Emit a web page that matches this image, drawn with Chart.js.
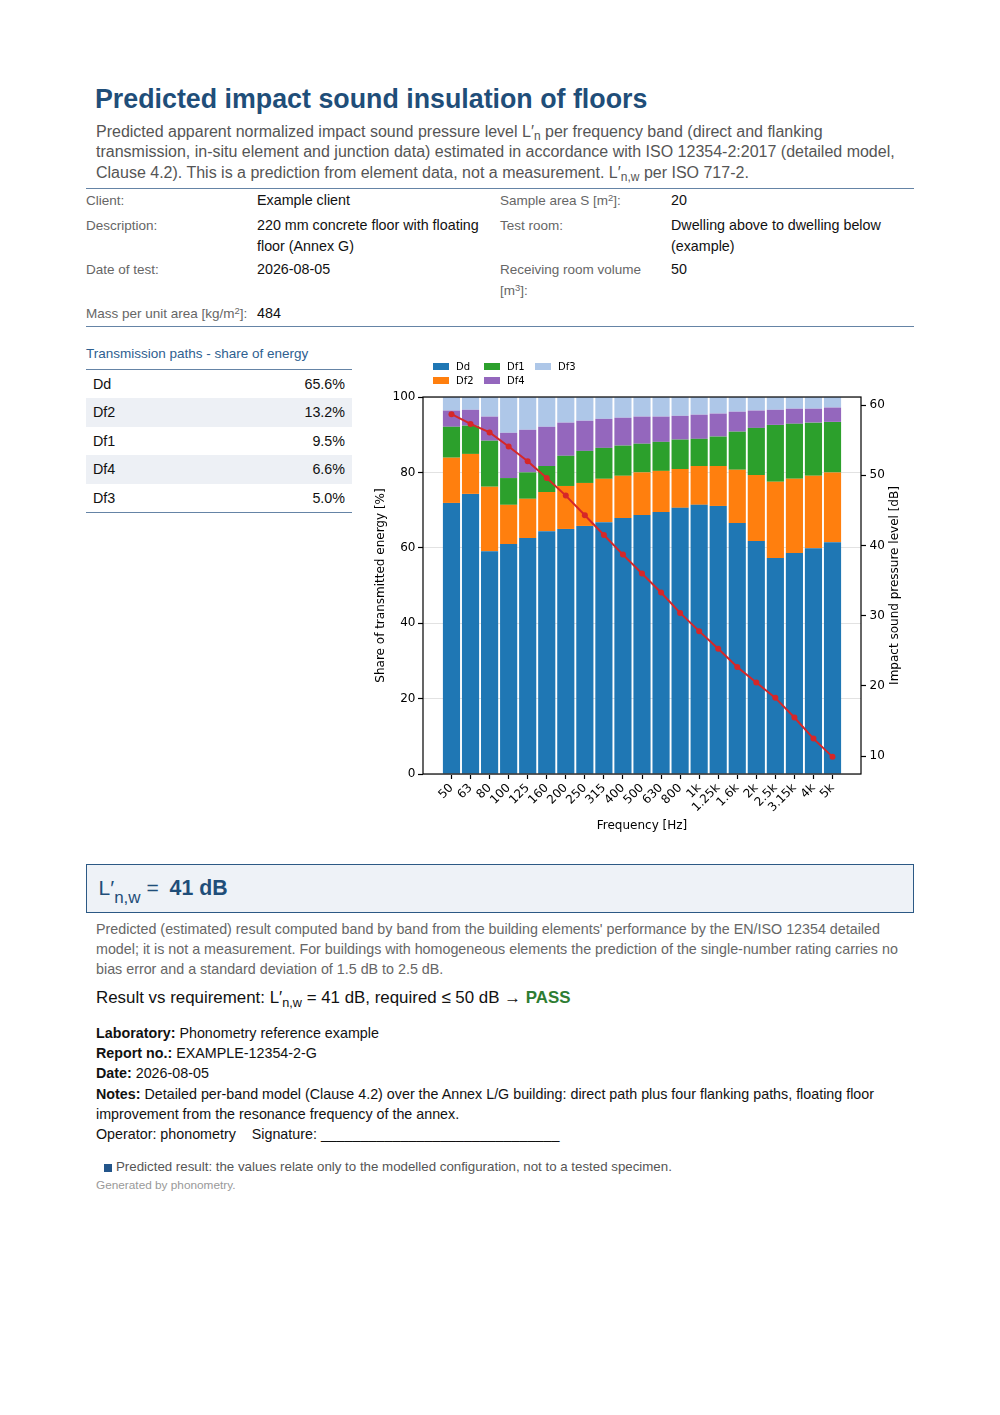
<!DOCTYPE html>
<html><head><meta charset="utf-8">
<script src="https://cdn.jsdelivr.net/npm/chart.js@4.4.1/dist/chart.umd.min.js"></script>
<style>
html,body{margin:0;padding:0;background:#fff;}
body{width:1000px;height:1415px;position:relative;font-family:"Liberation Sans",Arial,Helvetica,sans-serif;color:#111;}
.a{position:absolute;white-space:nowrap;}
sub{font-size:0.75em;vertical-align:-0.28em;line-height:0;}
sup{font-size:0.7em;vertical-align:0.45em;line-height:0;}
.lbl{font-size:13.5px;line-height:21px;color:#666;}
.val{font-size:14.3px;line-height:21px;color:#111;}
.rule{position:absolute;left:86px;width:828px;height:0;border-top:1.5px solid #6584a6;}
.prow{position:absolute;left:86px;width:266px;height:28.5px;line-height:28.5px;font-size:14.3px;color:#111;}
.prow.alt{background:#edf0f5;}
.prow .n{position:absolute;left:7px;}
.prow .v{position:absolute;right:7px;}
</style>
</head>
<body>
<div class="a" style="left:95px;top:83.2px;font-size:26.8px;line-height:32px;font-weight:bold;color:#1f4e79;">Predicted impact sound insulation of floors</div>
<div class="a" style="left:96px;top:121.7px;font-size:16px;line-height:20.5px;color:#555;">Predicted apparent normalized impact sound pressure level L′<sub>n</sub> per frequency band (direct and flanking<br>transmission, in-situ element and junction data) estimated in accordance with ISO 12354-2:2017 (detailed model,<br>Clause 4.2). This is a prediction from element data, not a measurement. L′<sub>n,w</sub> per ISO 717-2.</div>

<div class="rule" style="top:188.3px;"></div>
<div class="a lbl" style="left:86px;top:190.2px;">Client:</div>
<div class="a val" style="left:257px;top:190.1px;">Example client</div>
<div class="a lbl" style="left:500px;top:190.2px;">Sample area S [m<sup>2</sup>]:</div>
<div class="a val" style="left:671px;top:190.1px;">20</div>

<div class="a lbl" style="left:86px;top:215.2px;">Description:</div>
<div class="a val" style="left:257px;top:215.1px;">220 mm concrete floor with floating<br>floor (Annex G)</div>
<div class="a lbl" style="left:500px;top:215.2px;">Test room:</div>
<div class="a val" style="left:671px;top:215.1px;">Dwelling above to dwelling below<br>(example)</div>

<div class="a lbl" style="left:86px;top:259px;">Date of test:</div>
<div class="a val" style="left:257px;top:258.8px;">2026-08-05</div>
<div class="a lbl" style="left:500px;top:259px;">Receiving room volume<br>[m<sup>3</sup>]:</div>
<div class="a val" style="left:671px;top:258.8px;">50</div>

<div class="a lbl" style="left:86px;top:303px;">Mass per unit area [kg/m<sup>2</sup>]:</div>
<div class="a val" style="left:257px;top:302.8px;">484</div>
<div class="rule" style="top:325.8px;"></div>

<div class="a" style="left:86px;top:346px;font-size:13.5px;line-height:16px;color:#2e6090;">Transmission paths - share of energy</div>
<div class="rule" style="top:368.6px;width:266px;"></div>
<div id="paths"></div>

<canvas id="c" width="550" height="495" style="position:absolute;left:360px;top:350px;width:550px;height:495px;"></canvas>

<div style="position:absolute;left:86px;top:864px;width:828px;height:49px;box-sizing:border-box;border:1.5px solid #2c5985;background:#eef2f7;"></div>
<div class="a" style="left:98.5px;top:875.5px;font-size:21px;line-height:24px;color:#1f4e79;">L′<span style="font-size:17px;position:relative;top:8px;">n,w</span> = <b style="margin-left:5px;font-size:21.3px;">41 dB</b></div>

<div class="a" style="left:96px;top:920.2px;font-size:14.3px;line-height:19.7px;color:#666;">Predicted (estimated) result computed band by band from the building elements' performance by the EN/ISO 12354 detailed<br>model; it is not a measurement. For buildings with homogeneous elements the prediction of the single-number rating carries no<br>bias error and a standard deviation of 1.5 dB to 2.5 dB.</div>

<div class="a" style="left:96px;top:988px;font-size:16.9px;line-height:20px;color:#111;">Result vs requirement: L′<sub>n,w</sub> = 41 dB, required ≤ 50 dB → <b style="color:#2e7d32;">PASS</b></div>

<div class="a" style="left:96px;top:1023px;font-size:14.3px;line-height:20.2px;color:#111;"><b>Laboratory:</b> Phonometry reference example<br><b>Report no.:</b> EXAMPLE-12354-2-G<br><b>Date:</b> 2026-08-05<br><b>Notes:</b> Detailed per-band model (Clause 4.2) over the Annex L/G building: direct path plus four flanking paths, floating floor<br>improvement from the resonance frequency of the annex.<br>Operator: phonometry &nbsp;&nbsp; Signature: ______________________________</div>

<div style="position:absolute;left:104px;top:1163.5px;width:8px;height:8px;background:#23558a;"></div>
<div class="a" style="left:116px;top:1159.3px;font-size:13.3px;line-height:16px;color:#555;">Predicted result: the values relate only to the modelled configuration, not to a tested specimen.</div>
<div class="a" style="left:96px;top:1177.5px;font-size:11.8px;line-height:14px;color:#999;">Generated by phonometry.</div>

<script>
// ---- data ----
const freqLabels = ['50','63','80','100','125','160','200','250','315','400','500','630','800','1k','1.25k','1.6k','2k','2.5k','3.15k','4k','5k'];
const Dd  = [71.9,74.3,59.1,61.0,62.6,64.4,65.0,65.8,66.8,67.9,68.7,69.5,70.6,71.4,71.1,66.6,61.8,57.3,58.6,59.9,61.5];
const Df2 = [12.0,10.6,17.1,10.4,10.4,10.4,11.4,11.4,11.5,11.2,11.3,10.9,10.3,10.3,10.6,14.1,17.5,20.2,19.7,19.2,18.5];
const Df1 = [8.2,7.5,12.2,7.1,7.0,6.9,8.0,8.5,8.2,8.0,7.6,7.7,7.8,7.2,7.8,10.1,12.5,15.1,14.6,14.1,13.4];
const Df4 = [4.3,4.2,6.4,12.0,11.3,10.4,8.8,8.0,7.7,7.4,7.2,6.7,6.3,6.4,6.1,5.3,4.6,4.0,4.0,3.7,3.8];
const Df3 = [3.6,3.4,5.2,9.5,8.7,7.9,6.8,6.3,5.8,5.5,5.2,5.2,5.0,4.7,4.4,3.9,3.6,3.4,3.1,3.1,2.8];
const Lprime = [58.7,57.3,56.1,54.1,52.0,49.6,47.1,44.3,41.5,38.7,36.0,33.3,30.4,27.8,25.3,22.7,20.5,18.3,15.5,12.5,9.9];
const leftTicks = [0,20,40,60,80,100];
const rightTicks = [10,20,30,40,50,60];
const pathNames = ['Dd','Df2','Df1','Df4','Df3'];
const pathShares = ['65.6%','13.2%','9.5%','6.6%','5.0%'];

// ---- paths table ----
(function(){
  const host = document.getElementById('paths');
  let html = '';
  pathNames.forEach((nm,i)=>{
    html += '<div class="prow'+(i%2===1?' alt':'')+'" style="top:'+(369.8+i*28.5)+'px;"><span class="n">'+nm+'</span><span class="v">'+pathShares[i]+'</span></div>';
  });
  html += '<div class="rule" style="top:'+(369.8+5*28.5)+'px;width:266px;"></div>';
  host.innerHTML = html;
})();

// ---- chart ----
Chart.defaults.font.family = '"DejaVu Sans", sans-serif';
Chart.defaults.font.size = 12;
Chart.defaults.color = '#000';

const n = freqLabels.length;
const barW = 0.9;
const xSpan = (n - 1) + barW;
const xMin = -barW/2 - 0.05*xSpan, xMax = (n - 1) + barW/2 + 0.05*xSpan;
const lMin = Math.min(...Lprime), lMax = Math.max(...Lprime), lPad = 0.05*(lMax - lMin);
const pts = arr => arr.map((v,i)=>({x:i, y:v}));

const series = [
  ['Dd', Dd, '#1f77b4'],
  ['Df2', Df2, '#ff7f0e'],
  ['Df1', Df1, '#2ca02c'],
  ['Df4', Df4, '#9467bd'],
  ['Df3', Df3, '#aec7e8']
];

const deco = {
  id: 'deco',
  afterDatasetsDraw(chart){
    const {ctx, chartArea:a} = chart;
    ctx.save();
    ctx.strokeStyle = '#000';
    ctx.lineWidth = 1.2;
    ctx.strokeRect(a.left, a.top, a.right - a.left, a.bottom - a.top);
    ctx.restore();
  },
  afterDraw(chart){
    const {ctx, chartArea:a} = chart;
    ctx.save();
    const bars = chart.data.datasets.filter(d => d.type === 'bar');
    ctx.font = '10px "DejaVu Sans", sans-serif';
    ctx.textBaseline = 'middle';
    ctx.textAlign = 'left';
    bars.forEach((d,k)=>{
      const col = Math.floor(k/2), row = k % 2;
      const x0 = 73 + col*51, y0 = 13 + row*14;
      ctx.fillStyle = d.backgroundColor;
      ctx.fillRect(x0, y0, 16, 7);
      ctx.fillStyle = '#000';
      ctx.fillText(d.label, x0 + 23, y0 + 4);
    });
    ctx.translate(534.5, (a.top + a.bottom)/2);
    ctx.rotate(-Math.PI/2);
    ctx.textAlign = 'center';
    ctx.font = '12px "DejaVu Sans", sans-serif';
    ctx.fillStyle = '#000';
    ctx.fillText('Impact sound pressure level [dB]', 0, 0);
    ctx.restore();
  }
};

new Chart(document.getElementById('c'), {
  data: {
    datasets: [
      {type:'line', label:"L'n", data: pts(Lprime), yAxisID:'yR', xAxisID:'x',
       borderColor:'#d62728', backgroundColor:'#d62728', borderWidth:2,
       pointRadius:3, pointBackgroundColor:'#d62728', pointBorderWidth:0, tension:0, order:0},
      ...series.map(([l,d,c]) => ({type:'bar', label:l, data: pts(d), backgroundColor:c,
        yAxisID:'y', xAxisID:'x', barPercentage:barW, categoryPercentage:1, borderWidth:0, order:1}))
    ]
  },
  options: {
    responsive: false,
    animation: false,
    layout: {padding: {top:47, left:0, right:0, bottom:0}},
    plugins: {legend:{display:false}, tooltip:{enabled:false}},
    scales: {
      x: {
        type:'linear', min:xMin, max:xMax, offset:false, stacked:true,
        grid:{display:true, drawOnChartArea:false, offset:false, drawTicks:true, tickLength:5, tickColor:'#000', tickWidth:1.2},
        border:{display:false},
        ticks:{autoSkip:false, maxRotation:45, minRotation:45, padding:2, color:'#000', font:{size:12},
               callback:(v)=> (freqLabels[v] !== undefined ? freqLabels[v] : '')},
        afterBuildTicks: s => { s.ticks = freqLabels.map((_,i)=>({value:i})); },
        afterFit: s => { s.height = 71; },
        title:{display:true, text:'Frequency [Hz]', color:'#000', font:{size:12}, padding:{top:0, bottom:11.5}}
      },
      y: {
        type:'linear', position:'left', min:0, max:100, stacked:true,
        grid:{color:'#e2e2e2', lineWidth:1, tickColor:'#000', tickLength:5, tickWidth:1.2},
        border:{display:false},
        ticks:{padding:2.5, color:'#000', font:{size:12}},
        afterBuildTicks: s => { s.ticks = leftTicks.map(v=>({value:v})); },
        afterFit: s => { s.width = 63; },
        title:{display:true, text:'Share of transmitted energy [%]', color:'#000', font:{size:12}, padding:{top:14, bottom:0}}
      },
      yR: {
        type:'linear', position:'right', min:lMin - lPad, max:lMax + lPad,
        grid:{drawOnChartArea:false, tickColor:'#000', tickLength:5, tickWidth:1.2},
        border:{display:false},
        ticks:{padding:3.5, color:'#000', font:{size:12}},
        afterBuildTicks: s => { s.ticks = rightTicks.map(v=>({value:v})); },
        afterFit: s => { s.width = 49; },
        title:{display:false}
      }
    }
  },
  plugins: [deco]
});
</script>
</body></html>
